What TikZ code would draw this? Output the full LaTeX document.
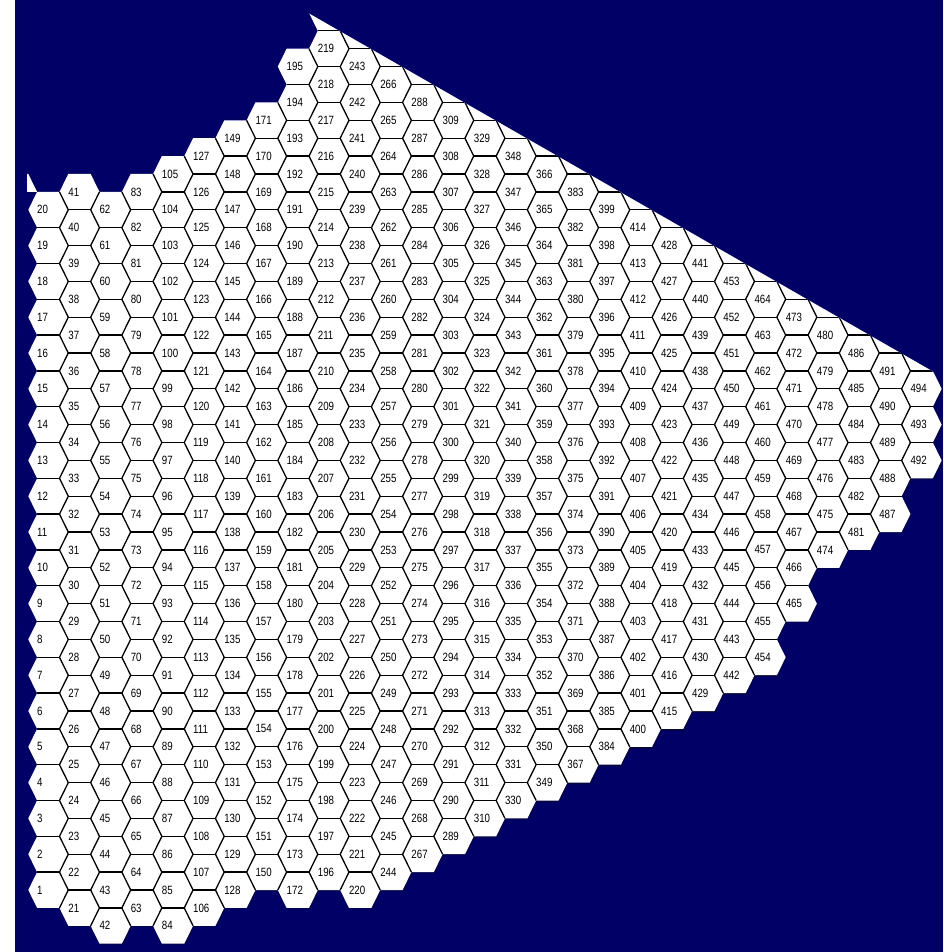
\documentclass[tikz,border=0pt]{standalone}
\usepackage{fontspec}
\usepackage{tikz}
\newfontfamily\cellfont[FakeStretch=0.81]{Liberation Sans}
\definecolor{mapblue}{RGB}{0,0,102}
\tikzset{
  cell/.style={fill=white},
  rim/.style={draw=black,line width=0.65pt},
  num/.style={anchor=west,inner sep=0pt,font=\cellfont\fontsize{6}{6}\selectfont}
}
% per column: lowest row, highest row, first number (index 0 and 30 unused)
\def\rowlo{{0,0,-1,-2,-1,-2,-1,0,1,0,1,0,1,2,3,4,5,6,7,8,9,10,11,12,13,16,19,20,21,24,99}}
\def\rowhi{{0,38,39,38,39,40,41,42,43,46,47,46,45,44,43,42,41,40,39,38,37,36,35,34,33,32,31,30,29,28,-99}}
\def\firstnum{{0,1,21,42,63,84,106,128,150,172,196,220,244,267,289,310,330,349,367,384,400,415,429,442,454,465,474,481,487,492,0}}

\begin{document}
\begin{tikzpicture}[x=0.5pt,y=-0.5pt]
  \useasboundingbox (0,0) rectangle (943,952);
  \fill[white] (0,0) rectangle (943,952);
  \fill[mapblue] (15,0) rectangle (943,952);
  \fill[cell] (27,174) -- (28.3,174) -- (37.1,191.9) -- (27,191.9) -- cycle;
  \begin{scope}
    \clip (0,1000) -- (0,-163.9) -- (1000,410) -- (1000,1000) -- cycle;
    % white cells
    \foreach \c in {1,...,29} {
      \pgfmathtruncatemacro\lo{\rowlo[\c]}
      \pgfmathtruncatemacro\up{\rowhi[\c]+(\c>9)*2}
      \pgfmathtruncatemacro\nxt{\lo+2}
      \foreach \r in {\lo,\nxt,...,\up} {
        \begin{scope}[shift={({17.1+31.19*\c},{890-17.9*\r})}]
          \fill[cell] (-20,0) -- (-11.19,-17.9) -- (11.19,-17.9) -- (20,0)
            -- (11.19,17.9) -- (-11.19,17.9) -- cycle;
        \end{scope}
      }
    }
    % borders between cells, and numbers
    \foreach \c in {1,...,29} {
      \pgfmathtruncatemacro\lo{\rowlo[\c]}
      \pgfmathtruncatemacro\hi{\rowhi[\c]}
      \pgfmathtruncatemacro\up{\rowhi[\c]+(\c>9)*2}
      \pgfmathtruncatemacro\nlo{\rowlo[\c+1]}
      \pgfmathtruncatemacro\nhi{\rowhi[\c+1]+(\c>8)*2}
      \pgfmathtruncatemacro\nxt{\lo+2}
      \foreach \r in {\lo,\nxt,...,\up} {
        \pgfmathtruncatemacro\rr{\r}
        \begin{scope}[shift={({17.1+31.19*\c},{890-17.9*\rr})}]
          \ifnum\rr<\numexpr\up-1\relax
            \draw[rim] (-11.19,-17.9) -- (11.19,-17.9);
          \fi
          \ifnum\rr<\nhi \ifnum\rr>\numexpr\nlo-2\relax
            \draw[rim] (11.19,-17.9) -- (20,0);
          \fi\fi
          \ifnum\rr<\numexpr\nhi+2\relax \ifnum\rr>\nlo
            \draw[rim] (20,0) -- (11.19,17.9);
          \fi\fi
          \ifnum\rr>\hi\else
            \pgfmathtruncatemacro\n{\firstnum[\c]+(\rr-\lo)/2}
            \node[num] (h\n) at (-11.5,0) {\n};
          \fi
        \end{scope}
      }
    }
  \end{scope}
\end{tikzpicture}
\end{document}
